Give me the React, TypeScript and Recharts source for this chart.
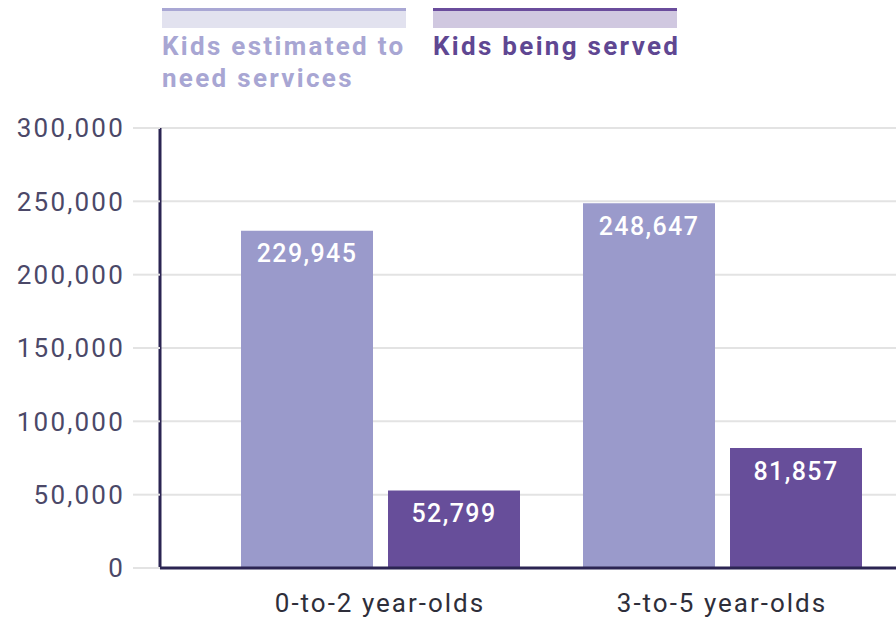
import { BarChart, Bar, XAxis, YAxis, CartesianGrid, LabelList } from 'recharts';

const categories = ['0-to-2 year-olds', '3-to-5 year-olds'];
const needServices = [229945, 248647];
const beingServed = [52799, 81857];
const yTicks = [0, 50000, 100000, 150000, 200000, 250000, 300000];

const seriesInfo = [
  { key: 'need', label: ['Kids estimated to', 'need services'], fill: '#9a9acb', swatch: '#e2e2ef', stripe: '#a9a7d4', text: '#a8a6d3' },
  { key: 'served', label: ['Kids being served'], fill: '#674e9a', swatch: '#d0c8e0', stripe: '#6a4c9c', text: '#5f4792' },
];

const data = categories.map((name, i) => ({
  name,
  need: needServices[i],
  served: beingServed[i],
}));

const fmt = (v: number) => v.toLocaleString('en-US');

export default function App() {
  return (
    <div style={{ position: 'absolute', top: 0, left: 0, width: 896, height: 618, background: '#fff', fontFamily: 'Roboto, sans-serif' }}>
      {/* legend */}
      {seriesInfo.map((s, i) => (
        <div key={s.key} style={{ position: 'absolute', top: 8, left: i === 0 ? 162 : 433, width: 244 }}>
          <div style={{ height: 3, background: s.stripe }} />
          <div style={{ height: 17, background: s.swatch }} />
          <div style={{ marginTop: 2, color: s.text, fontWeight: 700, fontSize: 26, lineHeight: '32px', letterSpacing: 2.3, whiteSpace: 'nowrap' }}>
            {s.label.map((l) => <div key={l}>{l}</div>)}
          </div>
        </div>
      ))}
      <BarChart
        width={896}
        height={618}
        data={data}
        margin={{ top: 128, right: 0, left: 0, bottom: 0 }}
        barCategoryGap={32}
        barGap={15}
      >
        <CartesianGrid vertical={false} stroke="#e3e3e3" strokeWidth={2} />
        <XAxis
          dataKey="name"
          height={50}
          padding={{ left: 49, right: 3 }}
          axisLine={{ stroke: '#2b2452', strokeWidth: 3 }}
          tickLine={false}
          tickMargin={20}
          tick={{ fill: '#2e2e3a', fontSize: 26, letterSpacing: 2 }}
        />
        <YAxis
          width={160}
          domain={[0, 300000]}
          ticks={yTicks}
          tickFormatter={fmt}
          axisLine={{ stroke: '#2b2452', strokeWidth: 3 }}
          tickSize={27}
          tickLine={{ stroke: '#e3e3e3', strokeWidth: 2 }}
          tickMargin={8}
          tick={{ fill: '#4b4868', fontSize: 26, letterSpacing: 2.2 }}
        />
        {seriesInfo.map((s) => (
          <Bar key={s.key} dataKey={s.key} fill={s.fill} isAnimationActive={false}>
            <LabelList
              dataKey={s.key}
              position="insideTop"
              offset={14}
              formatter={(v: any) => fmt(Number(v))}
              style={{ fill: '#ffffff', fontSize: 25, fontWeight: 500, letterSpacing: 1.4 }}
            />
          </Bar>
        ))}
      </BarChart>
    </div>
  );
}
